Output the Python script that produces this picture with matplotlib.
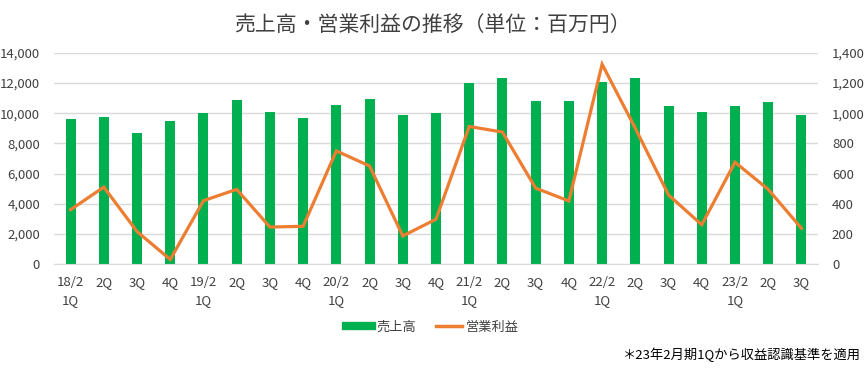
import matplotlib
matplotlib.use("Agg")
import matplotlib.pyplot as plt
from matplotlib.lines import Line2D
from matplotlib.ticker import FuncFormatter, MultipleLocator

plt.rcParams['font.family'] = ['Noto Sans CJK JP', 'DejaVu Sans']

categories = ["18/2\n1Q", "2Q", "3Q", "4Q", "19/2\n1Q", "2Q", "3Q", "4Q",
              "20/2\n1Q", "2Q", "3Q", "4Q", "21/2\n1Q", "2Q", "3Q", "4Q",
              "22/2\n1Q", "2Q", "3Q", "4Q", "23/2\n1Q", "2Q", "3Q"]
sales = [9600, 9750, 8700, 9500, 10000, 10900, 10100, 9700,
         10550, 10950, 9900, 10000, 12000, 12350, 10830, 10830,
         12100, 12350, 10500, 10100, 10500, 10750, 9900]
profit = [360, 510, 215, 30, 420, 495, 245, 250,
          750, 650, 186, 297, 912, 875, 503, 418,
          1325, 900, 458, 260, 675, 495, 237]

GREEN = "#00b050"
ORANGE = "#ed7d31"
TXT = "#404040"

fig = plt.figure(figsize=(8.65, 3.7), dpi=100)
ax = fig.add_axes([0.0624, 0.2865, 0.8833, 0.5705])
ax2 = ax.twinx()

x = list(range(len(categories)))
ax.bar(x, sales, width=0.3, color=GREEN, zorder=2)
ax2.plot(x, profit, color=ORANGE, lw=2.3, zorder=3, solid_joinstyle='miter')

ax.set_xlim(-0.5, len(categories) - 0.5)
ax.set_ylim(0, 14000)
ax2.set_ylim(0, 1400)
ax.yaxis.set_major_locator(MultipleLocator(2000))
ax2.yaxis.set_major_locator(MultipleLocator(200))
fmt = FuncFormatter(lambda v, p: f"{int(v):,}")
ax.yaxis.set_major_formatter(fmt)
ax2.yaxis.set_major_formatter(fmt)
ax.set_xticks(x)
ax.set_xticklabels(categories, fontsize=9.5, color=TXT, linespacing=1.5)
ax.tick_params(axis='x', length=0, pad=9)
ax.tick_params(axis='y', length=0, labelsize=9.5, labelcolor=TXT, pad=10)
ax2.tick_params(axis='y', length=0, labelsize=9.5, labelcolor=TXT, pad=10)
ax.grid(axis='y', color="#d9d9d9", lw=1, zorder=0)
ax.set_axisbelow(True)
for a in (ax, ax2):
    for s in a.spines.values():
        s.set_visible(False)
ax.spines['bottom'].set_visible(True)
ax.spines['bottom'].set_color("#d9d9d9")
ax.set_zorder(ax2.get_zorder() - 1)
ax.patch.set_visible(False)

fig.text(0.5, 0.932, "売上高・営業利益の推移（単位：百万円）", ha='center', va='center',
         fontsize=15, color=TXT)

handles = [Line2D([], [], color=GREEN, lw=6), Line2D([], [], color=ORANGE, lw=2.5)]
fig.legend(handles, ["売上高", "営業利益"], loc='center', bbox_to_anchor=(0.5, 0.115),
           ncol=2, frameon=False, fontsize=9.5, handlelength=2.0, handletextpad=0.3,
           columnspacing=1.5, labelcolor=TXT)

fig.text(0.995, 0.04, "＊23年2月期1Qから収益認識基準を適用", ha='right', va='center',
         fontsize=9.5, color="#000000")

fig.savefig("out.png", dpi=100)
